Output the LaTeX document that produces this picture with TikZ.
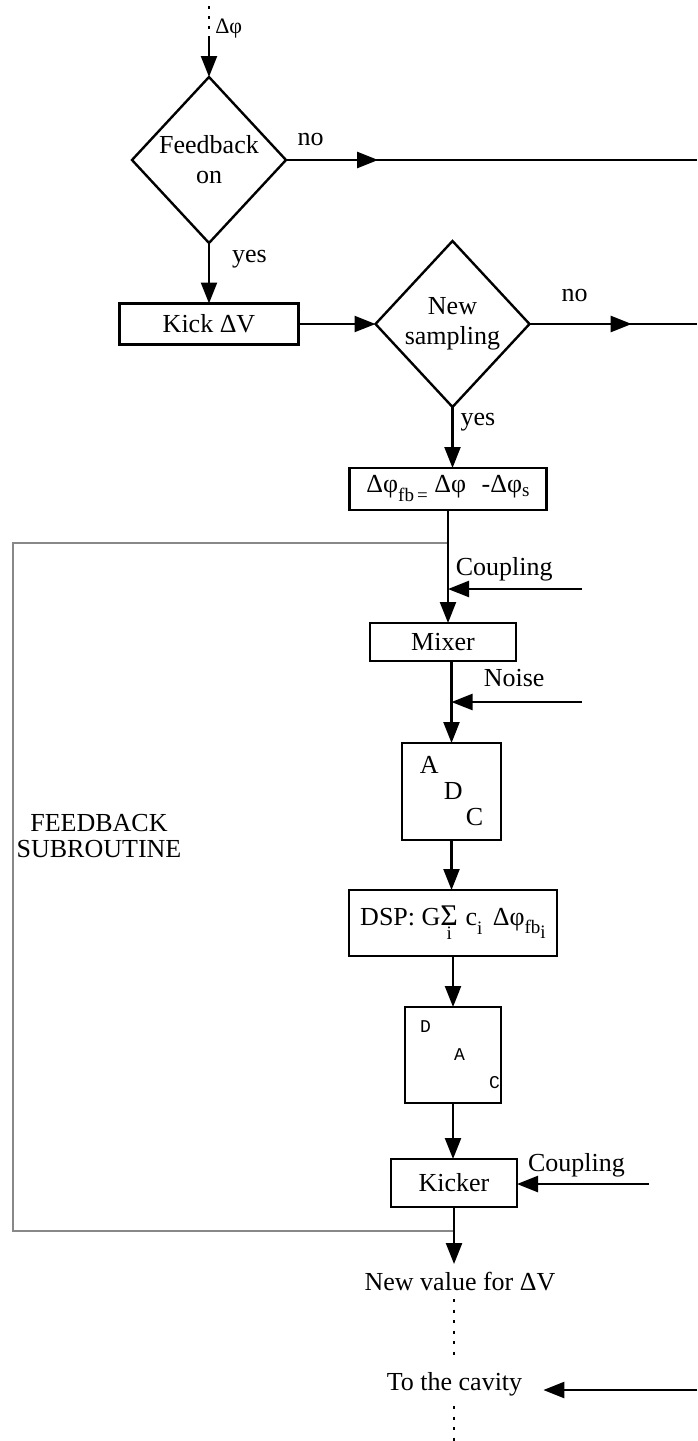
\documentclass[tikz,border=0pt]{standalone}
\usepackage{fontspec}
\setmainfont{Liberation Serif}
\setmonofont{Liberation Mono}
\usetikzlibrary{positioning,arrows.meta,shapes.geometric,decorations.markings}
\definecolor{fbGray}{RGB}{136,136,136}
\newcommand{\sublow}[2]{\raisebox{-#1}{\fontsize{19}{19}\selectfont #2}}
\tikzset{
    base/.style={font=\fontsize{26}{30}\selectfont, align=center, inner sep=0pt},
    block/.style={base, rectangle, draw, line width=2.4pt, outer sep=0pt},
    query/.style={base, diamond, aspect=0.95, draw, line width=2.4pt, outer sep=0pt,
                  minimum width=154pt, minimum height=166pt},
    flow/.style={-{Triangle[length=21pt,width=16pt]}, line width=2.4pt},
    wire/.style={line width=2.4pt},
    midtip/.style={postaction={decorate}, decoration={markings,
                   mark=at position #1 with {\arrow{Triangle[length=21pt,width=16pt]}}}},
    dots/.style={line width=2.5pt, dash pattern=on 3pt off 7.5pt},
    frame/.style={draw=fbGray, line width=2pt},
    tag/.style={base, inner sep=2pt}
}
\begin{document}
\begin{tikzpicture}[x=1pt, y=-1pt]
  \useasboundingbox (0,0) rectangle (697,1441);
  % Decisions
  \node[query] (fbq) at (209,160) {Feedback\\on};
  \node[block, minimum width=179pt, minimum height=41pt, below=60.5pt of fbq] (kick) {Kick ΔV};
  \node[query, right=77pt of kick] (sampq) {New\\sampling};

  % Feedback chain
  \node[block, minimum width=197pt, minimum height=42pt, below=61pt of sampq, xshift=-4.5pt] (dfb)
    {Δφ\sublow{9pt}{fb\,=} Δφ\hspace{0.6em}-Δφ\sublow{4pt}{s}};
  \node[block, minimum width=146pt, minimum height=38pt, below=113pt of dfb, xshift=-5pt] (mixer) {Mixer};
  \node[block, minimum width=99pt, minimum height=97pt, below=82pt of mixer, xshift=8.5pt,
        align=left, font=\fontsize{26}{26}\selectfont] (adc) {A\\\hspace*{24pt}D\\\hspace*{46pt}C};
  \node[block, minimum width=208pt, minimum height=66pt, below=50pt of adc, xshift=1.5pt] (dsp)
    {DSP: G$\mathop{\hbox{\fontsize{30}{30}\selectfont Σ}}\limits_{\hbox{\sublow{3pt}{i}}}$\hspace{0.3em}%
     c\sublow{9pt}{i}\hspace{0.4em}Δφ\sublow{8pt}{fb\sublow{5pt}{i}}};
  \node[block, minimum width=96pt, minimum height=96pt, below=51pt of dsp,
        align=left, font=\ttfamily\fontsize{18}{28}\selectfont] (dac)
    {\hspace*{14pt}D\\\hspace*{48pt}A\\\hspace*{83pt}C};
  \node[block, minimum width=126pt, minimum height=48pt, below=56pt of dac, xshift=1pt] (kicker) {Kicker};
  \node[tag, inner sep=8pt, below=57pt of kicker, xshift=6pt] (nv) {New value for ΔV};
  \node[tag, inner xsep=21pt, inner ysep=10pt, below=63pt of nv, xshift=-5.5pt] (cav) {To the cavity};

  \node[tag, font=\fontsize{26}{26}\selectfont] (sub) at (99,836) {FEEDBACK\\SUBROUTINE};

  % Free ends
  \coordinate (inTop) at (209,6);
  \coordinate (inMid) at (209,36);
  \coordinate (fbOut) at (697,160);
  \coordinate (sampOut) at (697,324);
  \coordinate (cplA) at (582,589);
  \coordinate (noiseIn) at (582,702);
  \coordinate (cplB) at (649,1184);
  \coordinate (cavIn) at (697,1390);
  \coordinate (outEnd) at (454,1441);
  \coordinate (fTop) at ([yshift=-33pt]dfb.south);
  \coordinate (fBot) at ([yshift=-24pt]kicker.south);
  \coordinate (fLeft) at (13,900);

  % Subroutine frame
  \draw[frame] (fTop) -| (fLeft) |- (fBot);

  % Arrows
  \draw[dots, dash pattern=on 3pt off 7pt] (inTop) -- node[tag, right=3pt, pos=0.75,
        font=\fontsize{22}{22}\selectfont] (dphi) {Δφ} (inMid);
  \draw[flow] (inMid) -- (fbq.north);
  \draw[wire, midtip=0.224] (fbq.east) -- node[tag, above=11pt, pos=0.06] (noA) {no} (fbOut);
  \draw[flow] (fbq.south) -- node[tag, right=20pt, pos=0.27] (yesA) {yes} (fbq.south |- kick.north);
  \draw[flow] (kick.east) -- (sampq.west);
  \draw[wire, midtip=0.61] (sampq.east) -- node[tag, above=19pt, pos=0.27] (noB) {no} (sampq.east -| sampOut);
  \draw[flow] (sampq.south) -- node[tag, right=5pt, pos=0.25] (yesB) {yes} (sampq.south |- dfb.north);
  \draw[flow] (dfb.south) -- (dfb.south |- mixer.north);
  \draw[flow] (cplA) -- node[tag, above=5pt, pos=0.58] (cplAtxt) {Coupling} (cplA -| dfb.south);
  \draw[flow] (mixer.south -| adc.north) -- (adc.north);
  \draw[flow] (noiseIn) -- node[tag, above=12pt, pos=0.52] (noiseTxt) {Noise} (noiseIn -| adc.north);
  \draw[flow] (adc.south) -- (adc.south |- dsp.north);
  \draw[flow] (dsp.south) -- (dsp.south |- dac.north);
  \draw[flow] (dac.south) -- (dac.south |- kicker.north);
  \draw[flow] (cplB) -- node[tag, above=4pt, pos=0.55] (cplBtxt) {Coupling} (cplB -| kicker.east);
  \draw[flow] (kicker.south) -- (kicker.south |- nv.north);
  \draw[dots] (kicker.south |- nv.south) -- (kicker.south |- cav.north);
  \draw[dots] (cav.south -| outEnd) -- (outEnd);
  \draw[flow] (cavIn) -- (cavIn -| cav.east);
\end{tikzpicture}
\end{document}
